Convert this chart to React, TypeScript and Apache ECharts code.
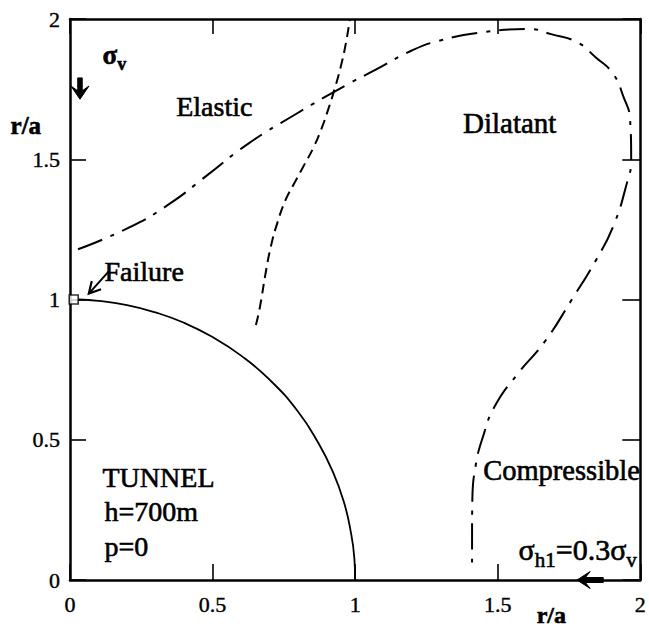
import React, { useEffect, useRef } from 'react';
import * as echarts from 'echarts';

// ---- data (units of r/a) ----
const axisMin = 0;
const axisMax = 2;
const tickStep = 0.5;

// tunnel boundary (solid)
const tunnelBoundary: number[][] = [
  [0.03, 1.0], [0.1, 0.995], [0.2, 0.98], [0.3, 0.954], [0.4, 0.917], [0.5, 0.866],
  [0.6, 0.8], [0.7, 0.714], [0.8, 0.6], [0.87, 0.49], [0.92, 0.39], [0.96, 0.28],
  [0.985, 0.17], [0.997, 0.08], [1.0, 0.0],
];

// dilatant / elastic boundary (dashed)
const dashedBoundary: number[][] = [
  [0.652, 0.909], [0.666, 0.973], [0.686, 1.094], [0.704, 1.187], [0.728, 1.276],
  [0.756, 1.355], [0.787, 1.415], [0.821, 1.479], [0.853, 1.54], [0.88, 1.604],
  [0.905, 1.676], [0.929, 1.754], [0.95, 1.832], [0.967, 1.911], [0.981, 1.996],
];

// outer boundary (dash-dot)
const dashDotBoundary: number[][] = [
  [0.028, 1.179], [0.208, 1.257], [0.346, 1.339], [0.485, 1.446], [0.623, 1.554],
  [0.797, 1.664], [0.97, 1.765], [1.074, 1.82], [1.195, 1.886], [1.289, 1.921],
  [1.455, 1.954], [1.611, 1.964], [1.687, 1.946], [1.777, 1.918], [1.843, 1.864],
  [1.905, 1.804], [1.94, 1.725], [1.964, 1.643], [1.968, 1.5], [1.95, 1.404],
  [1.905, 1.261], [1.846, 1.143], [1.76, 1.0], [1.665, 0.85], [1.57, 0.735],
  [1.49, 0.62], [1.448, 0.51], [1.422, 0.404], [1.411, 0.286], [1.41, 0.15], [1.41, 0.03],
];

// failure point marker
const failurePoint: number[][] = [[0.013, 1.0]];

const FONT = '"Liberation Serif", "Times New Roman", serif';

export default function App() {
  const ref = useRef<HTMLDivElement>(null);

  useEffect(() => {
    const chart = echarts.init(ref.current!, null, { renderer: 'svg' });

    const lineStyle = { color: '#000', width: 2.5 };
    const tickStyle = { color: '#000', width: 1.6 };
    const baseAxis = {
      type: 'value',
      min: axisMin,
      max: axisMax,
      interval: tickStep,
      splitLine: { show: false },
      axisLine: { show: true, onZero: false, lineStyle },
      axisTick: { show: true, inside: true, length: 16, lineStyle: tickStyle },
    };
    const tickLabel = {
      color: '#000',
      fontFamily: FONT,
      fontSize: 22,
      textBorderColor: '#000',
      textBorderWidth: 0.4,
    };

    chart.setOption({
      animation: false,
      backgroundColor: '#fff',
      grid: { left: 70, right: 2, top: 19, bottom: 48, containLabel: false },
      xAxis: [
        { ...baseAxis, position: 'bottom', axisLabel: { ...tickLabel, margin: 13 } },
        {
          ...baseAxis,
          position: 'top',
          axisTick: { show: true, inside: true, length: 15, lineStyle: tickStyle },
          axisLabel: { show: false },
        },
      ],
      yAxis: [
        { ...baseAxis, position: 'left', axisLabel: { ...tickLabel, margin: 10 } },
        {
          ...baseAxis,
          position: 'right',
          axisTick: { show: true, inside: true, length: 18, lineStyle: tickStyle },
          axisLabel: { show: false },
        },
      ],
      series: [
        {
          type: 'line',
          data: tunnelBoundary,
          smooth: true,
          symbol: 'none',
          lineStyle: { color: '#000', width: 1.8, type: 'solid' },
        },
        {
          type: 'line',
          data: dashedBoundary,
          smooth: true,
          symbol: 'none',
          lineStyle: { color: '#000', width: 2, type: [10, 6] },
        },
        {
          type: 'line',
          data: dashDotBoundary,
          smooth: true,
          symbol: 'none',
          lineStyle: { color: '#000', width: 2, type: [26, 9, 4, 9] },
        },
        {
          type: 'scatter',
          data: failurePoint,
          symbol: 'rect',
          symbolSize: 9,
          itemStyle: { color: '#fff', borderColor: '#000', borderWidth: 1.6 },
          z: 5,
        },
      ],
    });

    const toPx = (pt: number[]) => chart.convertToPixel({ gridIndex: 0 }, pt) as number[];
    const ctx = document.createElement('canvas').getContext('2d')!;
    const measure = (t: string, size: number, weight: string) => {
      ctx.font = `${weight} ${size}px "Liberation Serif"`;
      return ctx.measureText(t).width;
    };

    const text = (t: string, x: number, y: number, size: number, align: string, weight = 'normal') => ({
      type: 'text',
      x,
      y,
      z: 10,
      style: {
        text: t,
        fill: '#000',
        stroke: '#000',
        lineWidth: 0.6,
        fontFamily: FONT,
        fontSize: size,
        fontWeight: weight,
        textAlign: align,
        align,
        textVerticalAlign: 'middle',
        verticalAlign: 'middle',
      },
    });

    const elements: any[] = [];
    const label = (t: string, pt: number[], size: number, align: string, weight = 'normal') => {
      const [x, y] = toPx(pt);
      elements.push(text(t, x, y, size, align, weight));
    };

    // sub-scripted text built from pieces
    const pieces = (parts: { t: string; sub?: boolean }[], pt: number[], size: number, subSize: number, weight: string) => {
      let [x, y] = toPx(pt);
      parts.forEach((p) => {
        const s = p.sub ? subSize : size;
        elements.push(text(p.t, x, p.sub ? y + size * 0.32 : y, s, 'left', weight));
        x += measure(p.t, s, weight);
      });
    };

    label('Elastic', [0.506, 1.689], 28, 'center');
    label('Dilatant', [1.542, 1.629], 29, 'center');
    label('Failure', [0.121, 1.1], 28, 'left');
    label('TUNNEL', [0.114, 0.364], 28, 'left');
    label('h=700m', [0.121, 0.243], 28, 'left');
    label('p=0', [0.121, 0.121], 28, 'left');
    label('Compressible', [1.449, 0.389], 28.5, 'left');
    label('r/a', [1.688, -0.125], 24, 'center', 'bold');
    label('r/a', [-0.155, 1.621], 25, 'center', 'bold');

    pieces([{ t: 'σ' }, { t: 'v', sub: true }], [0.114, 1.871], 27, 18, 'bold');
    pieces(
      [{ t: 'σ' }, { t: 'h1', sub: true }, { t: '=0.3σ' }, { t: 'v', sub: true }],
      [1.573, 0.107],
      30,
      21,
      'normal'
    );

    // arrows
    const solidArrow = (tail: number[], tip: number[], headLen: number, headW: number, shaftW: number) => {
      const [tx, ty] = toPx(tail);
      const [px, py] = toPx(tip);
      const len = Math.hypot(px - tx, py - ty);
      const dx = (px - tx) / len;
      const dy = (py - ty) / len;
      const nx = -dy;
      const ny = dx;
      const neck = [px - dx * headLen * 0.7, py - dy * headLen * 0.7];
      const back = [px - dx * headLen * 1.1, py - dy * headLen * 1.1];
      const points = [
        [tx + nx * shaftW / 2, ty + ny * shaftW / 2],
        [neck[0] + nx * shaftW / 2, neck[1] + ny * shaftW / 2],
        [back[0] + nx * headW / 2, back[1] + ny * headW / 2],
        [px, py],
        [back[0] - nx * headW / 2, back[1] - ny * headW / 2],
        [neck[0] - nx * shaftW / 2, neck[1] - ny * shaftW / 2],
        [tx - nx * shaftW / 2, ty - ny * shaftW / 2],
      ];
      elements.push({ type: 'polygon', z: 10, shape: { points }, style: { fill: '#000', stroke: '#000', lineWidth: 1 } });
    };

    const openArrow = (tail: number[], tip: number[], headLen: number) => {
      const [tx, ty] = toPx(tail);
      const [px, py] = toPx(tip);
      const ang = Math.atan2(py - ty, px - tx);
      const a1 = ang + Math.PI - 0.5;
      const a2 = ang + Math.PI + 0.5;
      elements.push({
        type: 'line', z: 10,
        shape: { x1: tx, y1: ty, x2: px, y2: py },
        style: { stroke: '#000', lineWidth: 2 },
      });
      elements.push({
        type: 'polyline', z: 10,
        shape: {
          points: [
            [px + Math.cos(a1) * headLen, py + Math.sin(a1) * headLen],
            [px, py],
            [px + Math.cos(a2) * headLen, py + Math.sin(a2) * headLen],
          ],
        },
        style: { stroke: '#000', lineWidth: 2.2, fill: null },
      });
    };

    solidArrow([0.035, 1.79], [0.035, 1.714], 12, 18, 4.5);
    solidArrow([1.87, 0.0], [1.778, 0.0], 12, 17, 5);
    openArrow([0.139, 1.104], [0.066, 1.021], 13);

    chart.setOption({ graphic: { elements } });

    return () => chart.dispose();
  }, []);

  return (
    <div
      ref={ref}
      style={{ position: 'fixed', left: 0, top: 0, width: 649, height: 628, background: '#fff' }}
    />
  );
}
